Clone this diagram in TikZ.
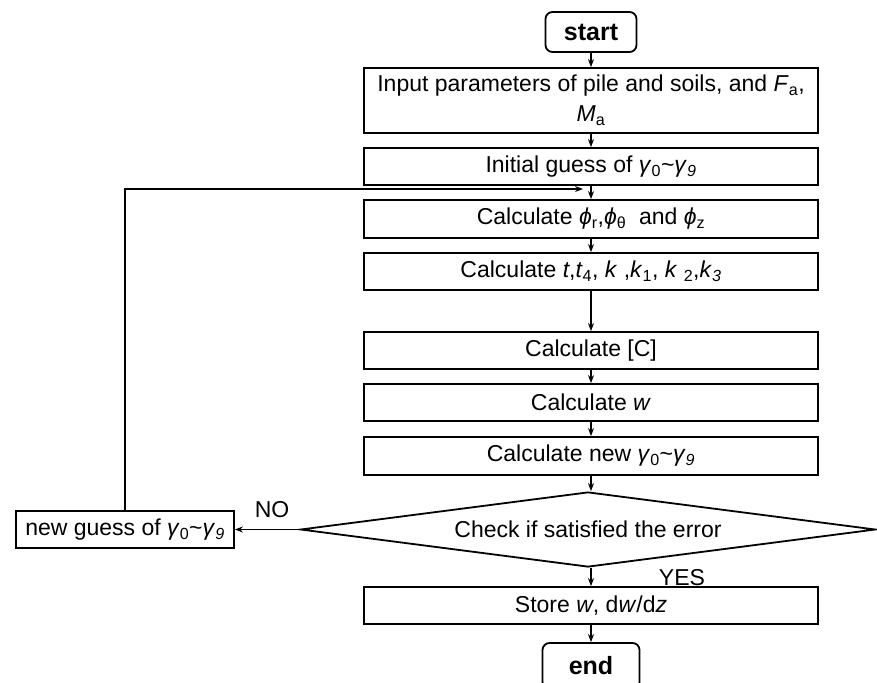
\documentclass[tikz,border=0pt]{standalone}
\usepackage{fontspec}
\setmainfont{Liberation Sans}
\usetikzlibrary{shapes.geometric,arrows.meta}
\newcommand\sbs[1]{\textsubscript{#1}}
\begin{document}
\begin{tikzpicture}[x=1pt,y=-1pt,
 box/.style={draw,line width=1.8pt,minimum width=454pt,inner sep=0pt,font=\fontsize{23}{30}\selectfont},
 term/.style={draw,line width=1.8pt,rounded corners=7pt,font=\fontsize{25}{28}\selectfont\bfseries,inner sep=0pt},
 arr/.style={-{Stealth[length=8pt,width=6pt]},line width=1.1pt},
 lbl/.style={font=\fontsize{23}{26}\selectfont,inner sep=0pt}]
\useasboundingbox (0,0) rectangle (877,682);
\node[term,minimum width=91pt,minimum height=40pt] (start) at (591,32) {start};
\node[box,minimum height=65pt,align=center] (inp) at (591,100.5) {Input parameters of pile and soils, and \textit{F}\sbs{a},\\\textit{M}\sbs{a}};
\node[box,minimum height=37pt] (ini) at (591,166.5) {Initial guess of \textit{γ}\sbs{0}\textasciitilde\textit{γ}\sbs{\textit{9}}};
\node[box,minimum height=38pt] (phi) at (591,219) {Calculate \textit{ϕ}\sbs{r},\textit{ϕ}\sbs{θ}\ \ and \textit{ϕ}\sbs{z}};
\node[box,minimum height=37pt] (tk) at (591,271.5) {Calculate \textit{t},\textit{t}\sbs{4}, \textit{k} ,\textit{k}\sbs{1}, \textit{k} \sbs{2},\textit{k}\sbs{\textit{3}}};
\node[box,minimum height=37pt] (cc) at (591,350.5) {Calculate [C]};
\node[box,minimum height=37pt] (cw) at (591,402.5) {Calculate \textit{w}};
\node[box,minimum height=38pt] (nw) at (591,456) {Calculate new \textit{γ}\sbs{0}\textasciitilde\textit{γ}\sbs{\textit{9}}};
\node[diamond,draw,line width=1.8pt,inner sep=0pt,aspect=7.6,minimum width=575pt,minimum height=75pt,font=\fontsize{23}{26}\selectfont] (dia) at (588,529.5) {Check if satisfied the error};
\node[box,minimum height=37pt] (st) at (591,605.5) {Store \textit{w}, d\textit{w}/d\textit{z}};
\node[term,minimum width=97pt,minimum height=46pt] (end) at (591,666) {end};
\node[box,minimum width=218pt,minimum height=37pt] (ng) at (125,529.5) {new guess of \textit{γ}\sbs{0}\textasciitilde\textit{γ}\sbs{\textit{9}}};
\node[lbl] (no) at (272,510) {NO};
\node[lbl] (yes) at (682,578) {YES};
\coordinate (fb) at (583,189);
\draw[arr] (start) -- (inp);
\draw[arr] (inp) -- (ini);
\draw[arr] (ini) -- (phi);
\draw[arr] (phi) -- (tk);
\draw[arr] (tk) -- (cc);
\draw[arr] (cc) -- (cw);
\draw[arr] (cw) -- (nw);
\draw[arr] (nw.south) -- (nw.south |- dia.north);
\draw[arr] (st.north |- dia.south) -- (st.north);
\draw[arr] (st) -- (end);
\draw[arr] (dia.west) -- (ng.east);
\draw[arr] (ng.north) |- (fb);
\end{tikzpicture}
\end{document}
